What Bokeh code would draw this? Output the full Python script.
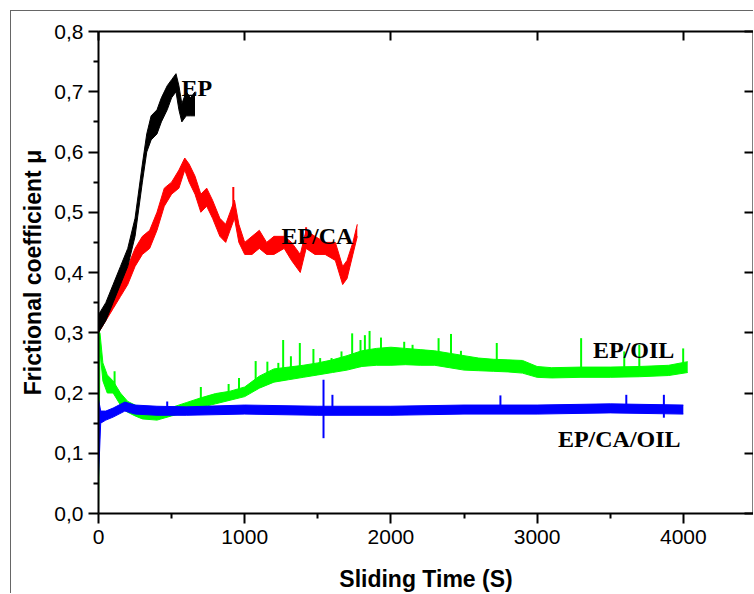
from bokeh.plotting import figure
from bokeh.models import Range1d, LinearAxis, FixedTicker, ColumnDataSource
from bokeh.core.properties import value
from bokeh.embed import file_html
from bokeh.resources import INLINE

# ---------------- data ----------------
# EP (black)
ep_t  = [0, 50, 100, 150, 200, 250, 300, 330, 360, 400, 430, 470, 500, 530, 550, 570, 600, 630, 660]
ep_lo = [0.30, 0.32, 0.35, 0.38, 0.41, 0.46, 0.55, 0.60, 0.62, 0.63, 0.65, 0.67, 0.69, 0.70, 0.67, 0.65, 0.66, 0.66, 0.66]
ep_hi = [0.33, 0.35, 0.38, 0.41, 0.44, 0.49, 0.58, 0.63, 0.66, 0.67, 0.69, 0.71, 0.72, 0.73, 0.71, 0.68, 0.70, 0.69, 0.70]

# EP/CA (red)
ca_t  = [0, 50, 100, 150, 200, 250, 300, 350, 400, 450, 500, 550, 590, 620, 660, 700, 740, 780, 830, 870,
         900, 930, 960, 1000, 1050, 1100, 1150, 1200, 1270, 1320, 1380, 1420, 1480, 1550, 1620, 1670, 1700, 1740, 1770]
ca_lo = [0.30, 0.32, 0.34, 0.36, 0.38, 0.41, 0.43, 0.44, 0.47, 0.51, 0.53, 0.54, 0.57, 0.55, 0.53, 0.50, 0.51, 0.49, 0.46, 0.45,
         0.47, 0.49, 0.45, 0.43, 0.43, 0.44, 0.43, 0.43, 0.44, 0.42, 0.40, 0.44, 0.43, 0.43, 0.42, 0.38, 0.39, 0.43, 0.46]
ca_hi = [0.32, 0.34, 0.37, 0.39, 0.41, 0.44, 0.46, 0.47, 0.50, 0.54, 0.55, 0.57, 0.59, 0.58, 0.56, 0.53, 0.54, 0.52, 0.49, 0.48,
         0.50, 0.52, 0.48, 0.45, 0.46, 0.47, 0.45, 0.46, 0.46, 0.45, 0.43, 0.47, 0.46, 0.45, 0.45, 0.41, 0.42, 0.45, 0.48]
ca_spike_t  = [922, 1420]
ca_spike_lo = [0.50, 0.44]
ca_spike_hi = [0.542, 0.475]

# EP/OIL (green)
oil_t  = [0, 10, 30, 60, 100, 150, 200, 250, 300, 400, 500, 600, 700, 800, 900, 1000, 1100, 1200, 1300, 1400,
          1500, 1600, 1700, 1800, 1900, 2000, 2100, 2200, 2300, 2400, 2500, 2600, 2700, 2800, 2900, 3000,
          3100, 3300, 3500, 3700, 3900, 4030]
oil_lo = [0.0, 0.27, 0.22, 0.20, 0.20, 0.18, 0.168, 0.162, 0.157, 0.155, 0.162, 0.168, 0.176, 0.182, 0.188, 0.194, 0.208, 0.218, 0.222, 0.226,
          0.230, 0.234, 0.238, 0.244, 0.246, 0.246, 0.247, 0.246, 0.246, 0.242, 0.238, 0.237, 0.236, 0.235, 0.233, 0.226,
          0.225, 0.226, 0.226, 0.227, 0.229, 0.234]
oil_hi = [0.30, 0.30, 0.25, 0.23, 0.22, 0.20, 0.186, 0.180, 0.176, 0.170, 0.176, 0.184, 0.192, 0.199, 0.203, 0.210, 0.228, 0.240, 0.243, 0.246,
          0.250, 0.255, 0.262, 0.270, 0.274, 0.276, 0.274, 0.272, 0.270, 0.266, 0.262, 0.258, 0.256, 0.255, 0.254, 0.244,
          0.242, 0.243, 0.243, 0.244, 0.246, 0.252]
oil_spike_t  = [110, 700, 890, 961, 1075, 1155, 1230, 1263, 1316, 1377, 1470, 1516, 1594, 1662, 1735, 1792, 1822, 1854,
                1912, 1932, 2091, 2148, 2326, 2411, 2479, 2724, 3301, 3596, 3699, 3999]
oil_spike_lo = [0.21, 0.18, 0.19, 0.195, 0.21, 0.215, 0.22, 0.22, 0.225, 0.227, 0.23, 0.232, 0.235, 0.237, 0.24, 0.243, 0.245, 0.246,
                0.248, 0.248, 0.25, 0.25, 0.25, 0.248, 0.245, 0.238, 0.228, 0.229, 0.23, 0.235]
oil_spike_hi = [0.236, 0.21, 0.215, 0.225, 0.253, 0.252, 0.250, 0.288, 0.261, 0.283, 0.273, 0.258, 0.258, 0.269, 0.299, 0.288, 0.296, 0.303,
                0.272, 0.292, 0.285, 0.280, 0.291, 0.298, 0.270, 0.283, 0.291, 0.269, 0.280, 0.274]

# EP/CA/OIL (blue)
cao_t  = [0, 15, 50, 100, 180, 250, 400, 600, 1000, 1500, 2000, 2500, 3000, 3500, 4000]
cao_lo = [0.06, 0.15, 0.155, 0.16, 0.17, 0.165, 0.163, 0.163, 0.165, 0.163, 0.163, 0.165, 0.165, 0.167, 0.165]
cao_hi = [0.19, 0.17, 0.17, 0.175, 0.185, 0.18, 0.178, 0.177, 0.18, 0.178, 0.178, 0.18, 0.18, 0.182, 0.18]
cao_spike_t  = [470, 1539, 1600, 2749, 3610, 3867]
cao_spike_lo = [0.17, 0.125, 0.17, 0.17, 0.17, 0.159]
cao_spike_hi = [0.186, 0.222, 0.197, 0.196, 0.197, 0.197]

# labels
label_text = ["EP", "EP/CA", "EP/OIL", "EP/CA/OIL"]
label_x = [568, 1251, 3382, 3142]
label_y = [0.707, 0.461, 0.271, 0.123]

# axes
x_ticks = [0, 1000, 2000, 3000, 4000]
x_minor = [500, 1500, 2500, 3500, 4500]
y_ticks = [0.0, 0.1, 0.2, 0.3, 0.4, 0.5, 0.6, 0.7, 0.8]
y_tick_labels = ["0,0", "0,1", "0,2", "0,3", "0,4", "0,5", "0,6", "0,7", "0,8"]
y_minor = [0.05, 0.15, 0.25, 0.35, 0.45, 0.55, 0.65, 0.75]

# ---------------- figure ----------------
p = figure(width=743, height=583, output_backend="svg", toolbar_location=None,
           x_range=Range1d(0, 4480), y_range=Range1d(0, 0.8),
           x_axis_location=None, y_axis_location=None,
           min_border_left=87, min_border_right=1, min_border_top=20, min_border_bottom=76)
p.grid.visible = False
p.outline_line_color = None
p.background_fill_color = "white"
p.border_fill_color = "white"
# outer frame of the original picture (top and left edges)
p.styles = {"margin-left": "10px", "margin-top": "10px",
            "border-top": "1px solid #666666", "border-left": "1px solid #666666"}

FONT = "Liberation Sans"

def setup(ax):
    ax.axis_line_width = 2
    ax.axis_line_color = "black"
    ax.major_tick_line_width = 2
    ax.minor_tick_line_width = 2
    ax.major_tick_line_color = "black"
    ax.minor_tick_line_color = "black"
    ax.major_label_text_font = FONT
    ax.major_label_text_font_size = "21px"
    ax.major_label_text_color = "black"
    ax.axis_label_text_font = FONT
    ax.axis_label_text_font_style = "bold"
    ax.axis_label_text_font_size = "23px"
    ax.axis_label_text_color = "black"

xb = LinearAxis(ticker=FixedTicker(ticks=x_ticks, minor_ticks=x_minor), axis_label="Sliding Time (S)")
setup(xb)
xb.major_tick_in = 0; xb.major_tick_out = 10
xb.minor_tick_in = 0; xb.minor_tick_out = 5
xb.major_label_standoff = 6
xb.axis_label_standoff = 19
p.add_layout(xb, "below")

yl = LinearAxis(ticker=FixedTicker(ticks=y_ticks, minor_ticks=y_minor), axis_label="Frictional coefficient μ")
setup(yl)
yl.major_label_overrides = {t: s for t, s in zip(y_ticks, y_tick_labels)}
yl.major_tick_in = 0; yl.major_tick_out = 10
yl.minor_tick_in = 0; yl.minor_tick_out = 5
yl.major_label_standoff = 5
yl.axis_label_standoff = 5
p.add_layout(yl, "left")

xt = LinearAxis(ticker=FixedTicker(ticks=x_ticks, minor_ticks=[]))
setup(xt)
xt.major_label_overrides = {t: "" for t in x_ticks}
xt.major_tick_in = 9; xt.major_tick_out = 0
xt.minor_tick_in = 0; xt.minor_tick_out = 0
xt.major_label_standoff = 0
p.add_layout(xt, "above")

yr = LinearAxis(ticker=FixedTicker(ticks=y_ticks, minor_ticks=[]))
setup(yr)
yr.major_label_overrides = {t: "" for t in y_ticks}
yr.major_tick_in = 9; yr.major_tick_out = 0
yr.minor_tick_in = 0; yr.minor_tick_out = 0
yr.major_label_standoff = 0
p.add_layout(yr, "right")

# ---------------- series ----------------
def band(t, lo, hi, color):
    src = ColumnDataSource(dict(t=t, lo=lo, hi=hi))
    p.varea(x="t", y1="lo", y2="hi", source=src, fill_color=color)
    p.line(x="t", y="lo", source=src, line_color=color, line_width=1)
    p.line(x="t", y="hi", source=src, line_color=color, line_width=1)

band(oil_t, oil_lo, oil_hi, "#00ff00")
p.segment(x0=oil_spike_t, y0=oil_spike_lo, x1=oil_spike_t, y1=oil_spike_hi, line_color="#00ff00", line_width=2)
band(cao_t, cao_lo, cao_hi, "#0000ff")
p.segment(x0=cao_spike_t, y0=cao_spike_lo, x1=cao_spike_t, y1=cao_spike_hi, line_color="#0000ff", line_width=2)
band(ca_t, ca_lo, ca_hi, "#ff0000")
p.segment(x0=ca_spike_t, y0=ca_spike_lo, x1=ca_spike_t, y1=ca_spike_hi, line_color="#ff0000", line_width=2)
band(ep_t, ep_lo, ep_hi, "#000000")

p.text(x=label_x, y=label_y, text=label_text, text_font=value("Liberation Serif"),
       text_font_style="bold", text_font_size="24px", text_color="black",
       text_align="left", text_baseline="alphabetic")

open("out.html", "w").write(file_html(p, INLINE))
